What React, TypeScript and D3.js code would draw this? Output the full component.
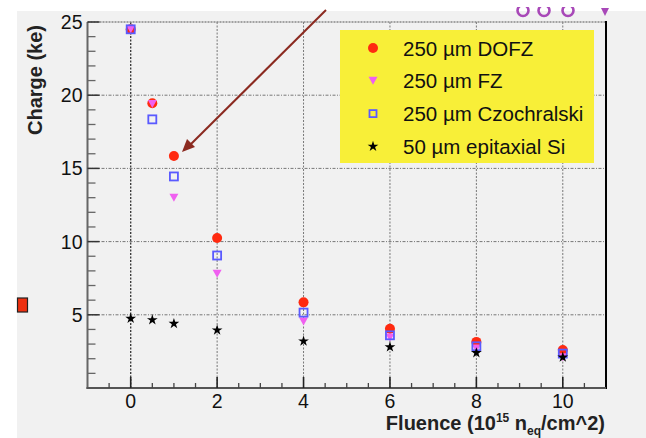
import React from "react";
import * as d3 from "d3";

const fluence = [0, 0.5, 1, 2, 4, 6, 8, 10];
const dofz = [24.5, 19.45, 15.85, 10.25, 5.85, 4.05, 3.15, 2.6];
const fz = [24.5, 19.4, 13.0, 7.8, 4.55, 3.45, 2.7, 2.1];
const cz = [24.5, 18.35, 14.45, 9.05, 5.15, 3.6, 2.85, 2.35];
const epi = [4.75, 4.65, 4.4, 3.95, 3.2, 2.8, 2.4, 2.1];
const xTicks = [0, 2, 4, 6, 8, 10];
const yTicks = [5, 10, 15, 20, 25];
const legendLabels = ["250 µm DOFZ", "250 µm FZ", "250 µm Czochralski", "50 µm epitaxial Si"];

const W = 646, H = 438;
const L = 87.5, R = 606, T = 22, B = 388;
const font = "'Liberation Sans', Arial, sans-serif";

const RED = "#ff2a10";
const MAG = "#f060f0";
const BLUE = "#5a5aff";

export default function App() {
  const x = d3.scaleLinear().domain([-1, 11]).range([L, R]);
  const y = d3.scaleLinear().domain([0, 25]).range([B, T]);
  const star = d3.symbol().type(d3.symbolStar).size(36)() as string;
  const tri = "M-4.5,-4 L4.5,-4 L0,4 Z";
  const xMinor = d3.range(-0.5, 11, 0.5).filter((v) => !xTicks.includes(v));
  const yMinor = d3.range(1, 25, 1).filter((v) => v % 5 !== 0);

  const marker = (kind: string, cx: number, cy: number, key: string) => {
    if (kind === "c") return <circle key={key} cx={cx} cy={cy} r={5} fill={RED} />;
    if (kind === "t") return <path key={key} d={tri} transform={`translate(${cx},${cy})`} fill={MAG} />;
    if (kind === "s") return <rect key={key} x={cx - 4} y={cy - 4} width={8} height={8} fill="none" stroke={BLUE} strokeWidth={1.8} />;
    return <path key={key} d={star} transform={`translate(${cx},${cy})`} fill="#000" />;
  };

  const series: [string, number[]][] = [["c", dofz], ["t", fz], ["s", cz], ["k", epi]];

  return (
    <svg width={W} height={H} style={{ position: "absolute", left: 0, top: 0 }} fontFamily={font}>
      <rect x={0} y={0} width={W} height={H} fill="#fff" />
      <rect x={17} y={11} width={W - 17} height={H - 11} fill="#f1f1f1" />
      {/* partial purple marks at top */}
      {[523, 544, 568].map((cx, i) => (
        <circle key={"pc" + i} cx={cx} cy={10.5} r={5.5} fill="none" stroke="#a848b8" strokeWidth={2.6} />
      ))}
      <rect x={500} y={0} width={120} height={7} fill="#fff" />
      <path d="M601,8 L609,8 L605,16 Z" fill="#a848b8" />
      {/* red square at left */}
      <rect x={17.5} y={298} width={10} height={14} fill="#ee3010" stroke="#222" strokeWidth={1.2} />

      {/* grid */}
      {xTicks.map((v) => (
        <line key={"gx" + v} x1={x(v)} x2={x(v)} y1={T} y2={B} stroke={v === 0 ? "#333" : "#777"} strokeWidth={v === 0 ? 1.3 : 1} strokeDasharray="2,1.5" />
      ))}
      {yTicks.filter((v) => v < 25).map((v) => (
        <line key={"gy" + v} x1={L} x2={R} y1={y(v)} y2={y(v)} stroke="#777" strokeWidth={1} strokeDasharray="3,1.5,1,1.5" />
      ))}
      {/* frame */}
      <line x1={L} x2={R} y1={T} y2={T} stroke="#888" strokeWidth={1.5} strokeDasharray="2,1" />
      <line x1={R} x2={R} y1={T - 1} y2={B + 1} stroke="#000" strokeWidth={2} />
      <line x1={L} x2={L} y1={T} y2={B + 1} stroke="#666" strokeWidth={2} />
      <line x1={L - 1} x2={R} y1={B} y2={B} stroke="#555" strokeWidth={2} />
      {/* ticks */}
      {yTicks.map((v) => (
        <line key={"yt" + v} x1={L} x2={L + 12} y1={y(v)} y2={y(v)} stroke="#333" strokeWidth={1.5} />
      ))}
      {yMinor.map((v) => (
        <line key={"ym" + v} x1={L} x2={L + 8} y1={y(v)} y2={y(v)} stroke="#666" strokeWidth={1.3} />
      ))}
      {xTicks.map((v) => (
        <line key={"xt" + v} x1={x(v)} x2={x(v)} y1={B} y2={B - 11} stroke="#222" strokeWidth={1.6} />
      ))}
      {xMinor.map((v) => (
        <line key={"xm" + v} x1={x(v)} x2={x(v)} y1={B} y2={B - 5} stroke="#444" strokeWidth={1.3} />
      ))}
      {/* tick labels */}
      {yTicks.map((v) => (
        <text key={"yl" + v} x={L - 5} y={y(v) + 7} textAnchor="end" fontSize={19.5} fill="#111">{v}</text>
      ))}
      {xTicks.map((v) => (
        <text key={"xl" + v} x={x(v)} y={408} textAnchor="middle" fontSize={19.5} fill="#111">{v}</text>
      ))}
      {/* axis titles */}
      <text transform="translate(42,80) rotate(-90)" textAnchor="middle" fontSize={20} fontWeight="bold" fill="#222">Charge (ke)</text>
      <text x={605} y={430} textAnchor="end" fontSize={20} fontWeight="bold" fill="#222">
        Fluence (10<tspan fontSize={12} dy={-8}>15</tspan>
        <tspan dy={8}> n</tspan>
        <tspan fontSize={12} dy={5}>eq</tspan>
        <tspan dy={-5}>/cm^2)</tspan>
      </text>

      {/* data */}
      {series.map(([k, vals]) =>
        vals.map((v, i) => marker(k, x(fluence[i]), y(v), k + i))
      )}

      {/* arrow */}
      <line x1={326} y1={10} x2={190} y2={145} stroke="#8b2a20" strokeWidth={2} />
      <path d="M182,152 L187,139 L195,147 Z" fill="#8b2a20" />

      {/* legend */}
      <rect x={340} y={30} width={254} height={133} fill="#f8ef38" />
      {legendLabels.map((lab, i) => {
        const cy = 48 + i * 32.8;
        const kind = ["c", "t", "s", "k"][i];
        return (
          <g key={"lg" + i}>
            {kind === "s" ? (
              <rect x={369.5} y={cy - 3.5} width={7} height={7} fill="none" stroke={BLUE} strokeWidth={1.8} />
            ) : (
              marker(kind, 373, cy, "lm" + i)
            )}
            <text x={403} y={cy + 7.5} fontSize={20.5} fill="#111">{lab}</text>
          </g>
        );
      })}
    </svg>
  );
}
